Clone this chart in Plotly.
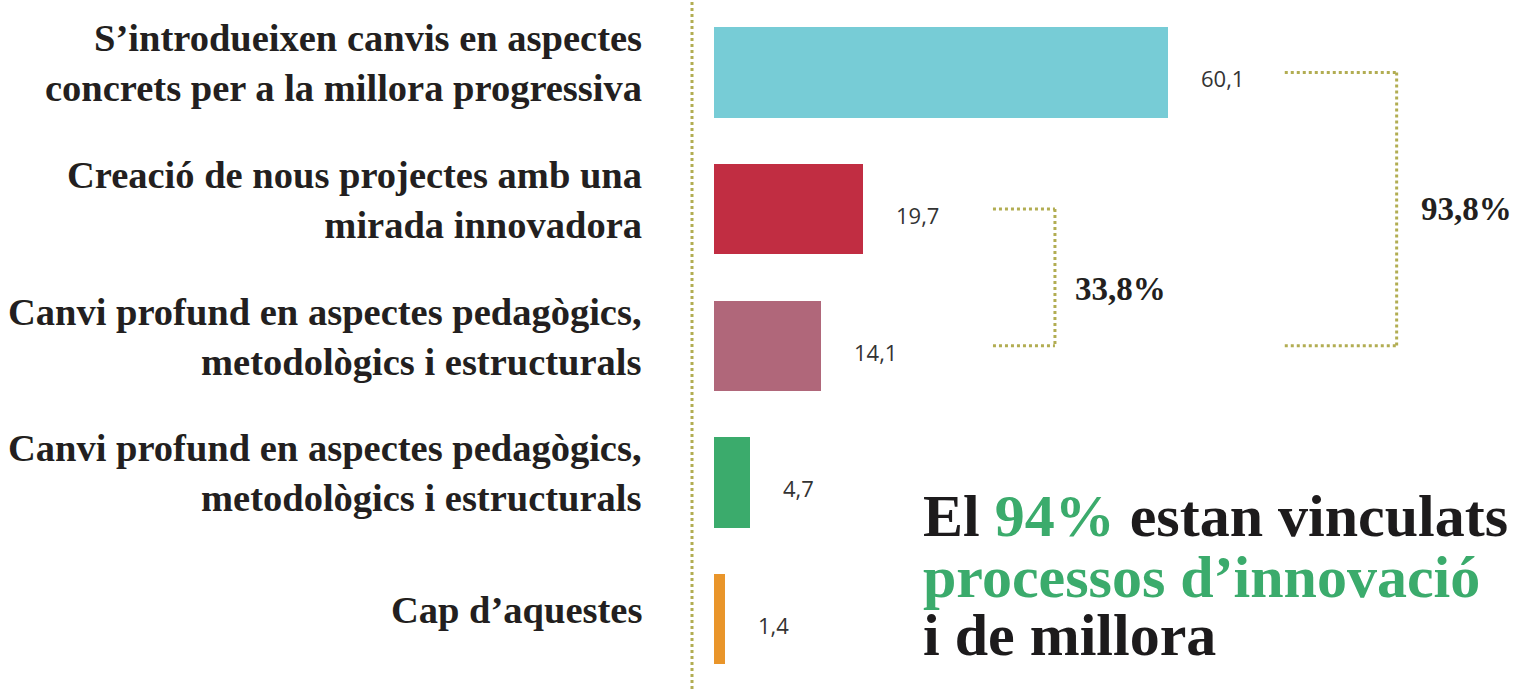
import plotly.graph_objects as go

# ---- data ----
categories = [
    "S’introdueixen canvis en aspectes<br>concrets per a la millora progressiva",
    "Creació de nous projectes amb una<br>mirada innovadora",
    "Canvi profund en aspectes pedagògics,<br>metodològics i estructurals",
    "Canvi profund en aspectes pedagògics,<br>metodològics i estructurals",
    "Cap d’aquestes",
]
values = [60.1, 19.7, 14.1, 4.7, 1.4]
value_labels = ["60,1", "19,7", "14,1", "4,7", "1,4"]
bar_colors = ["#77ccd6", "#c12d42", "#b0677a", "#3bab6c", "#e9952a"]

# grouped totals (bracket annotations): (first row, last row, label)
groups = [(0, 2, "93,8%"), (1, 2, "33,8%")]

headline = [
    ("El <span style='color:#3bab6c'>94%</span> estan vinculats", "#1d1b1c"),
    ("processos d’innovació", "#3bab6c"),
    ("i de millora", "#1d1b1c"),
]

# ---- layout constants ----
W, H = 1518, 689
OLIVE = "#b2ad52"
TXT = "#231f20"
SERIF = "Liberation Serif, Times New Roman, serif"
SANS = "Open Sans, Lato, sans-serif"

rows = list(range(len(values)))

fig = go.Figure()
fig.add_trace(go.Bar(
    x=values, y=rows, orientation="h",
    marker=dict(color=bar_colors, line=dict(width=0)),
    width=0.66, hoverinfo="skip", showlegend=False,
))

annotations = []
# category labels on the left
for r, lab in zip(rows, categories):
    annotations.append(dict(
        x=644 / W, xref="paper", xanchor="right",
        y=r, yref="y", yanchor="middle", yshift=9,
        text=lab, showarrow=False, align="right",
        font=dict(family=SERIF, size=38.5, color=TXT, weight="bold"),
    ))
# value labels
for r, v, t in zip(rows, values, value_labels):
    annotations.append(dict(
        x=v, xref="x", xanchor="left", xshift=31,
        y=r, yref="y", yanchor="middle", yshift=-6,
        text=t, showarrow=False,
        font=dict(family=SANS, size=22, color="#333333"),
    ))

# bracket geometry (in x data units) and label vertical nudge (px)
bracket_x = {0: (75.5, 90.3, 93.3, 0), 1: (36.9, 45.1, 47.5, -12)}
shapes = [dict(type="line", xref="paper", yref="paper", x0=692 / W, x1=692 / W,
               y0=0, y1=1, line=dict(color=OLIVE, width=3, dash="dot"))]
for gi, (a, b, lab) in enumerate(groups):
    x0, x1, xt, ys = bracket_x[gi]
    for yy in (a, b):
        shapes.append(dict(type="line", xref="x", yref="y", x0=x0, x1=x1, y0=yy, y1=yy,
                           line=dict(color=OLIVE, width=3, dash="dot")))
    shapes.append(dict(type="line", xref="x", yref="y", x0=x1, x1=x1, y0=a, y1=b,
                       line=dict(color=OLIVE, width=3, dash="dot")))
    annotations.append(dict(
        x=xt, xref="x", xanchor="left", y=(a + b) / 2, yref="y", yanchor="middle",
        yshift=ys, text=lab, showarrow=False,
        font=dict(family=SERIF, size=33, color=TXT, weight="bold"),
    ))

# headline
line_centers = [516, 577, 635]
for (txt, col), yc in zip(headline, line_centers):
    annotations.append(dict(
        x=921 / W, xref="paper", xanchor="left",
        y=1 - yc / H, yref="paper", yanchor="middle",
        text=txt, showarrow=False, align="left",
        font=dict(family=SERIF, size=60, color=col, weight="bold"),
    ))

fig.update_layout(
    width=W, height=H,
    margin=dict(l=0, r=0, t=0, b=0),
    paper_bgcolor="white", plot_bgcolor="white",
    xaxis=dict(domain=[680 / W, 1], range=[-4.497, 106.35], visible=False, fixedrange=True),
    yaxis=dict(domain=[0, 1], range=[4.511, -0.530], visible=False, fixedrange=True),
    shapes=shapes, annotations=annotations,
    bargap=0,
)

fig.write_html("out.html", config={"displayModeBar": False},
               post_script="document.body.style.margin='0';document.body.style.overflow='hidden';")
